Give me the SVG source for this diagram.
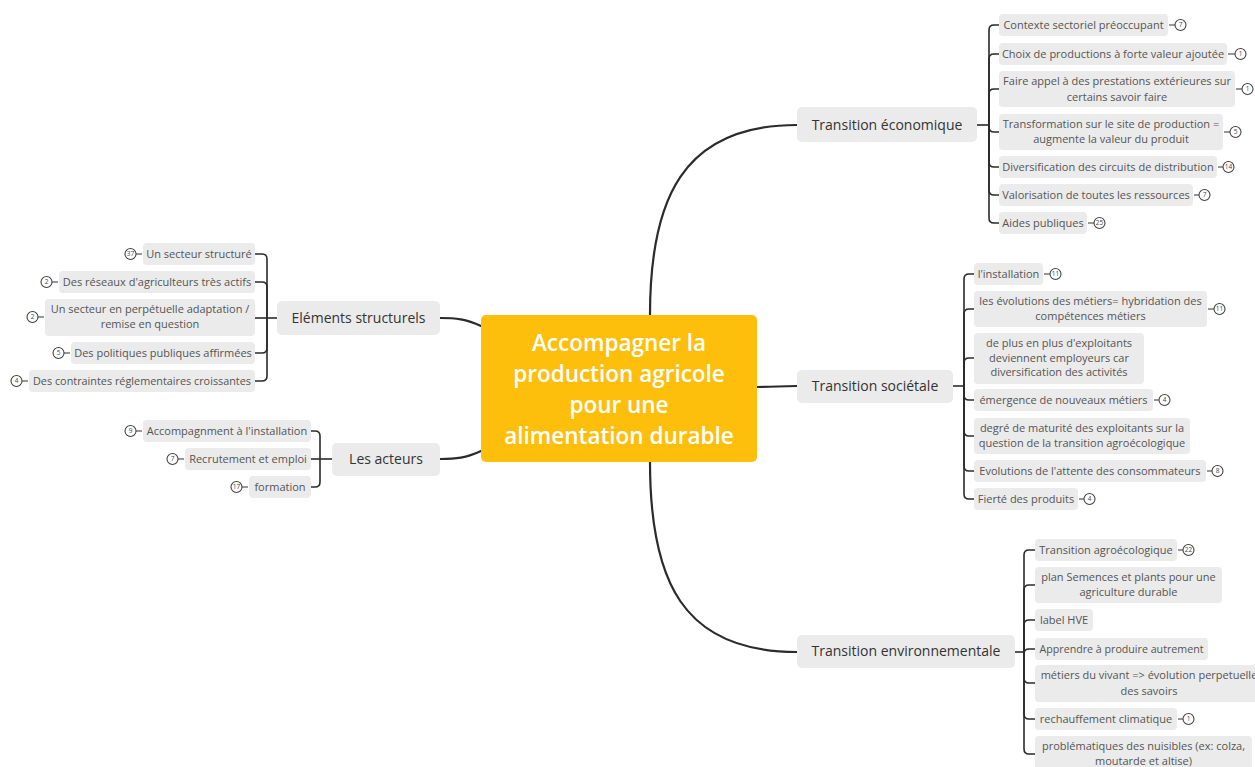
<svg xmlns="http://www.w3.org/2000/svg" width="1255" height="767" viewBox="0 0 1255 767">
<style>
.bg{fill:#ffffff}
.box{fill:#ebebeb}
.t{font-family:"Open Sans","Noto Sans",sans-serif;font-size:11px;fill:#555555;text-anchor:middle}
.mt{font-family:"Open Sans","Noto Sans",sans-serif;font-size:14px;fill:#333333;text-anchor:middle}
.ct{font-family:"Open Sans","Noto Sans",sans-serif;font-size:22.5px;font-weight:600;fill:#ffffff;text-anchor:middle}
.main{fill:none;stroke:#2b2b2b;stroke-width:2.2;stroke-linecap:round}
.sub{fill:none;stroke:#2b2b2b;stroke-width:1.6}
.bc{fill:#ffffff;stroke:#444444;stroke-width:1.1}
.bl{stroke:#444444;stroke-width:1.1}
.bt{font-family:"Open Sans","Noto Sans",sans-serif;font-size:6.5px;fill:#444444;text-anchor:middle}
</style>
<rect class="bg" x="0" y="0" width="1255" height="767"/>

<g id="connectors">
<path class="main" d="M650,315 C650,200 682,125 797,125"/>
<path class="main" d="M757,387 C775,387 780,386 797,386"/>
<path class="main" d="M650,462 C650,580 682,652 797,652"/>
<path class="main" d="M481,326 C466,319 456,318 440,318"/>
<path class="main" d="M481,451 C466,458 456,459 440,459"/>

<path class="sub" d="M977,125 H989"/>
<path class="sub" d="M989,125 V30 Q989,25 994,25 H999"/>
<path class="sub" d="M989,125 V59 Q989,54 994,54 H999"/>
<path class="sub" d="M989,125 V94 Q989,89 994,89 H999"/>
<path class="sub" d="M989,125 V127 Q989,132 994,132 H999"/>
<path class="sub" d="M989,125 V162 Q989,167 994,167 H999"/>
<path class="sub" d="M989,125 V190 Q989,195 994,195 H999"/>
<path class="sub" d="M989,125 V218 Q989,223 994,223 H999"/>

<path class="sub" d="M953,386 H964"/>
<path class="sub" d="M964,386 V279 Q964,274 969,274 H974"/>
<path class="sub" d="M964,386 V314 Q964,309 969,309 H974"/>
<path class="sub" d="M964,386 V363 Q964,358 969,358 H974"/>
<path class="sub" d="M964,386 V395 Q964,400 969,400 H974"/>
<path class="sub" d="M964,386 V431 Q964,436 969,436 H974"/>
<path class="sub" d="M964,386 V466 Q964,471 969,471 H974"/>
<path class="sub" d="M964,386 V494 Q964,499 969,499 H974"/>

<path class="sub" d="M1015,652 H1024"/>
<path class="sub" d="M1024,652 V555 Q1024,550 1029,550 H1035"/>
<path class="sub" d="M1024,652 V590 Q1024,585 1029,585 H1035"/>
<path class="sub" d="M1024,652 V625 Q1024,620 1029,620 H1035"/>
<path class="sub" d="M1024,652 V654 Q1024,649 1029,649 H1035"/>
<path class="sub" d="M1024,652 V678 Q1024,683 1029,683 H1035"/>
<path class="sub" d="M1024,652 V714 Q1024,719 1029,719 H1035"/>
<path class="sub" d="M1024,652 V749 Q1024,754 1029,754 H1035"/>

<path class="sub" d="M277,318 H267"/>
<path class="sub" d="M267,318 V259 Q267,254 262,254 H255"/>
<path class="sub" d="M267,318 V287 Q267,282 262,282 H255"/>
<path class="sub" d="M267,318 H255"/>
<path class="sub" d="M267,318 V348 Q267,353 262,353 H255"/>
<path class="sub" d="M267,318 V376 Q267,381 262,381 H255"/>

<path class="sub" d="M332,459 H320"/>
<path class="sub" d="M320,459 V436 Q320,431 315,431 H311"/>
<path class="sub" d="M320,459 H311"/>
<path class="sub" d="M320,459 V482 Q320,487 315,487 H311"/>
</g>

<g id="central">
<rect x="481" y="315" width="276" height="147" rx="5" fill="#fdbe0c"/>
<text class="ct" x="619" y="351">Accompagner la</text>
<text class="ct" x="619" y="382">production agricole</text>
<text class="ct" x="619" y="413">pour une</text>
<text class="ct" x="619" y="444">alimentation durable</text>
</g>

<g id="transition-economique">
<rect class="box" x="797" y="107" width="180" height="35" rx="5"/>
<text class="mt" x="887" y="130">Transition économique</text>
</g>
<g id="transition-societale">
<rect class="box" x="797" y="370" width="156" height="33" rx="5"/>
<text class="mt" x="875" y="391">Transition sociétale</text>
</g>
<g id="transition-environnementale">
<rect class="box" x="797" y="635" width="218" height="33" rx="5"/>
<text class="mt" x="906" y="656">Transition environnementale</text>
</g>
<g id="elements-structurels">
<rect class="box" x="277" y="301" width="163" height="34" rx="5"/>
<text class="mt" x="358.5" y="323">Eléments structurels</text>
</g>
<g id="les-acteurs">
<rect class="box" x="332" y="443" width="108" height="33" rx="5"/>
<text class="mt" x="386" y="464">Les acteurs</text>
</g>

<!-- Transition économique children -->
<g id="e1">
<rect class="box" x="999" y="14" width="169" height="22" rx="4"/>
<text class="t" x="1083.5" y="29">Contexte sectoriel préoccupant</text>
<line class="bl" x1="1169" y1="25" x2="1175" y2="25"/><circle class="bc" cx="1180.5" cy="25" r="5.5"/><text class="bt" x="1180.5" y="27.3">7</text>
</g>
<g id="e2">
<rect class="box" x="999" y="43" width="228" height="22" rx="4"/>
<text class="t" x="1113" y="58">Choix de productions à forte valeur ajoutée</text>
<line class="bl" x1="1228" y1="54" x2="1235" y2="54"/><circle class="bc" cx="1240.5" cy="54" r="5.5"/><text class="bt" x="1240.5" y="56.3">1</text>
</g>
<g id="e3">
<rect class="box" x="999" y="71" width="236" height="36" rx="4"/>
<text class="t" x="1117" y="85">Faire appel à des prestations extérieures sur</text>
<text class="t" x="1117" y="101">certains savoir faire</text>
<line class="bl" x1="1236" y1="89" x2="1242" y2="89"/><circle class="bc" cx="1247.5" cy="89" r="5.5"/><text class="bt" x="1247.5" y="91.3">1</text>
</g>
<g id="e4">
<rect class="box" x="999" y="114" width="224" height="36" rx="4"/>
<text class="t" x="1111" y="128">Transformation sur le site de production =</text>
<text class="t" x="1111" y="143">augmente la valeur du produit</text>
<line class="bl" x1="1224" y1="132" x2="1230" y2="132"/><circle class="bc" cx="1235.5" cy="132" r="5.5"/><text class="bt" x="1235.5" y="134.3">5</text>
</g>
<g id="e5">
<rect class="box" x="999" y="156" width="218" height="22" rx="4"/>
<text class="t" x="1108" y="171">Diversification des circuits de distribution</text>
<line class="bl" x1="1218" y1="167" x2="1223" y2="167"/><circle class="bc" cx="1228.5" cy="167" r="5.5"/><text class="bt" x="1228.5" y="169.3">14</text>
</g>
<g id="e6">
<rect class="box" x="999" y="184" width="194" height="22" rx="4"/>
<text class="t" x="1096" y="199">Valorisation de toutes les ressources</text>
<line class="bl" x1="1194" y1="195" x2="1199" y2="195"/><circle class="bc" cx="1204.5" cy="195" r="5.5"/><text class="bt" x="1204.5" y="197.3">7</text>
</g>
<g id="e7">
<rect class="box" x="999" y="212" width="88" height="22" rx="4"/>
<text class="t" x="1043" y="227">Aides publiques</text>
<line class="bl" x1="1088" y1="223" x2="1094" y2="223"/><circle class="bc" cx="1099.5" cy="223" r="5.5"/><text class="bt" x="1099.5" y="225.3">25</text>
</g>

<!-- Transition sociétale children -->
<g id="s1">
<rect class="box" x="974" y="263" width="69" height="22" rx="4"/>
<text class="t" x="1008.5" y="278">l'installation</text>
<line class="bl" x1="1044" y1="274" x2="1050" y2="274"/><circle class="bc" cx="1055.5" cy="274" r="5.5"/><text class="bt" x="1055.5" y="276.3">11</text>
</g>
<g id="s2">
<rect class="box" x="974" y="291" width="233" height="36" rx="4"/>
<text class="t" x="1090.5" y="305">les évolutions des métiers= hybridation des</text>
<text class="t" x="1090.5" y="320">compétences métiers</text>
<line class="bl" x1="1208" y1="309" x2="1214" y2="309"/><circle class="bc" cx="1219.5" cy="309" r="5.5"/><text class="bt" x="1219.5" y="311.3">11</text>
</g>
<g id="s3">
<rect class="box" x="974" y="333" width="170" height="51" rx="4"/>
<text class="t" x="1059" y="347">de plus en plus d'exploitants</text>
<text class="t" x="1059" y="362">deviennent employeurs car</text>
<text class="t" x="1059" y="376">diversification des activités</text>
</g>
<g id="s4">
<rect class="box" x="974" y="389" width="179" height="22" rx="4"/>
<text class="t" x="1063.5" y="404">émergence de nouveaux métiers</text>
<line class="bl" x1="1154" y1="400" x2="1159" y2="400"/><circle class="bc" cx="1164.5" cy="400" r="5.5"/><text class="bt" x="1164.5" y="402.3">4</text>
</g>
<g id="s5">
<rect class="box" x="974" y="418" width="216" height="36" rx="4"/>
<text class="t" x="1082" y="432">degré de maturité des exploitants sur la</text>
<text class="t" x="1082" y="447">question de la transition agroécologique</text>
</g>
<g id="s6">
<rect class="box" x="974" y="460" width="232" height="22" rx="4"/>
<text class="t" x="1090" y="475">Evolutions de l'attente des consommateurs</text>
<line class="bl" x1="1207" y1="471" x2="1212" y2="471"/><circle class="bc" cx="1217.5" cy="471" r="5.5"/><text class="bt" x="1217.5" y="473.3">8</text>
</g>
<g id="s7">
<rect class="box" x="974" y="488" width="104" height="22" rx="4"/>
<text class="t" x="1026" y="503">Fierté des produits</text>
<line class="bl" x1="1079" y1="499" x2="1084" y2="499"/><circle class="bc" cx="1089.5" cy="499" r="5.5"/><text class="bt" x="1089.5" y="501.3">4</text>
</g>

<!-- Transition environnementale children -->
<g id="v1">
<rect class="box" x="1035" y="539" width="142" height="22" rx="4"/>
<text class="t" x="1106" y="554">Transition agroécologique</text>
<line class="bl" x1="1178" y1="550" x2="1183" y2="550"/><circle class="bc" cx="1188.5" cy="550" r="5.5"/><text class="bt" x="1188.5" y="552.3">22</text>
</g>
<g id="v2">
<rect class="box" x="1035" y="567" width="187" height="36" rx="4"/>
<text class="t" x="1128.5" y="581">plan Semences et plants pour une</text>
<text class="t" x="1128.5" y="596">agriculture durable</text>
</g>
<g id="v3">
<rect class="box" x="1035" y="609" width="58" height="22" rx="4"/>
<text class="t" x="1064" y="624">label HVE</text>
</g>
<g id="v4">
<rect class="box" x="1035" y="638" width="173" height="22" rx="4"/>
<text class="t" x="1121.5" y="653" textLength="164" lengthAdjust="spacingAndGlyphs">Apprendre à produire autrement</text>
</g>
<g id="v5">
<rect class="box" x="1035" y="665" width="225" height="37" rx="4"/>
<text class="t" x="1149" y="679">métiers du vivant =&gt; évolution perpetuelle</text>
<text class="t" x="1149" y="695">des savoirs</text>
</g>
<g id="v6">
<rect class="box" x="1035" y="708" width="142" height="22" rx="4"/>
<text class="t" x="1106" y="723">rechauffement climatique</text>
<line class="bl" x1="1178" y1="719" x2="1183" y2="719"/><circle class="bc" cx="1188.5" cy="719" r="5.5"/><text class="bt" x="1188.5" y="721.3">1</text>
</g>
<g id="v7">
<rect class="box" x="1035" y="736" width="217" height="37" rx="4"/>
<text class="t" x="1143.5" y="750">problématiques des nuisibles (ex: colza,</text>
<text class="t" x="1143.5" y="765">moutarde et altise)</text>
</g>

<!-- Eléments structurels children -->
<g id="l1">
<rect class="box" x="143" y="243" width="112" height="22" rx="4"/>
<text class="t" x="199" y="258">Un secteur structuré</text>
<line class="bl" x1="142" y1="254" x2="136" y2="254"/><circle class="bc" cx="130.5" cy="254" r="5.5"/><text class="bt" x="130.5" y="256.3">37</text>
</g>
<g id="l2">
<rect class="box" x="59" y="271" width="196" height="22" rx="4"/>
<text class="t" x="157" y="286">Des réseaux d'agriculteurs très actifs</text>
<line class="bl" x1="58" y1="282" x2="52" y2="282"/><circle class="bc" cx="46.5" cy="282" r="5.5"/><text class="bt" x="46.5" y="284.3">2</text>
</g>
<g id="l3">
<rect class="box" x="45" y="299" width="210" height="37" rx="4"/>
<text class="t" x="150" y="313">Un secteur en perpétuelle adaptation /</text>
<text class="t" x="150" y="328">remise en question</text>
<line class="bl" x1="44" y1="317" x2="38" y2="317"/><circle class="bc" cx="32.5" cy="317" r="5.5"/><text class="bt" x="32.5" y="319.3">2</text>
</g>
<g id="l4">
<rect class="box" x="71" y="342" width="184" height="22" rx="4"/>
<text class="t" x="163" y="357">Des politiques publiques affirmées</text>
<line class="bl" x1="70" y1="353" x2="64" y2="353"/><circle class="bc" cx="58.5" cy="353" r="5.5"/><text class="bt" x="58.5" y="355.3">5</text>
</g>
<g id="l5">
<rect class="box" x="29" y="370" width="226" height="22" rx="4"/>
<text class="t" x="142" y="385" textLength="218" lengthAdjust="spacingAndGlyphs">Des contraintes réglementaires croissantes</text>
<line class="bl" x1="28" y1="381" x2="22" y2="381"/><circle class="bc" cx="16.5" cy="381" r="5.5"/><text class="bt" x="16.5" y="383.3">4</text>
</g>

<!-- Les acteurs children -->
<g id="a1">
<rect class="box" x="143" y="420" width="168" height="22" rx="4"/>
<text class="t" x="227" y="435">Accompagnment à l'installation</text>
<line class="bl" x1="142" y1="431" x2="136" y2="431"/><circle class="bc" cx="130.5" cy="431" r="5.5"/><text class="bt" x="130.5" y="433.3">9</text>
</g>
<g id="a2">
<rect class="box" x="185" y="448" width="126" height="22" rx="4"/>
<text class="t" x="248" y="463">Recrutement et emploi</text>
<line class="bl" x1="184" y1="459" x2="178" y2="459"/><circle class="bc" cx="172.5" cy="459" r="5.5"/><text class="bt" x="172.5" y="461.3">7</text>
</g>
<g id="a3">
<rect class="box" x="249" y="476" width="62" height="22" rx="4"/>
<text class="t" x="280" y="491">formation</text>
<line class="bl" x1="248" y1="487" x2="242" y2="487"/><circle class="bc" cx="236.5" cy="487" r="5.5"/><text class="bt" x="236.5" y="489.3">17</text>
</g>
</svg>
